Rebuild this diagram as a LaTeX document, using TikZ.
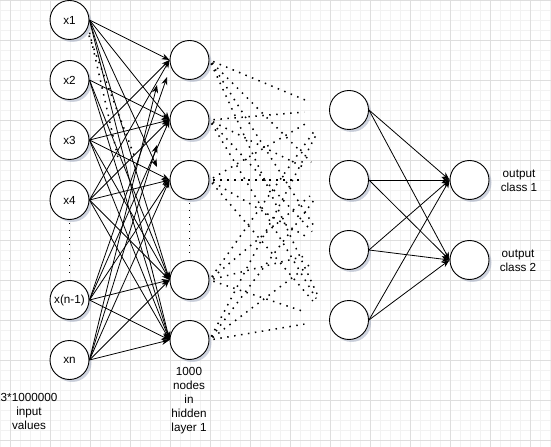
\documentclass[tikz,border=0pt]{standalone}
\usepackage{fontspec}
\setmainfont{Liberation Sans}
\usetikzlibrary{arrows.meta,shadows}
\definecolor{gridminor}{RGB}{242,242,242}
\definecolor{gridmajor}{RGB}{222,222,222}
\definecolor{shadowc}{RGB}{150,160,185}
\begin{document}
\begin{tikzpicture}[x=1bp,y=-1bp,
  font=\fontsize{11.7bp}{14bp}\selectfont,
  neuron/.style={circle, draw=black, line width=0.9bp, fill=white,
    minimum size=39bp, inner sep=0pt,
    drop shadow={shadow xshift=2.5bp, shadow yshift=-2.5bp, fill=shadowc, opacity=0.45}},
  conn/.style={-{Stealth[length=8bp,width=6bp]}, line width=0.8bp},
  dotln/.style={line width=1.5bp, dash pattern=on 1.5bp off 5.5bp},
  lbl/.style={align=center, inner sep=0pt}]
\useasboundingbox (0,0) rectangle (551,447);
\fill[white] (0,0) rectangle (551,447);
% grid
\foreach \x in {0,10,...,550} \draw[gridminor, line width=0.8bp] (\x,0) -- (\x,447);
\foreach \y in {0,10,...,440} \draw[gridminor, line width=0.8bp] (0,\y) -- (551,\y);
\foreach \x in {10,50,...,530} \draw[gridmajor, line width=0.8bp] (\x,0) -- (\x,447);
\foreach \y in {0,40,...,440} \draw[gridmajor, line width=0.8bp] (0,\y) -- (551,\y);

% input nodes
\node[neuron] (x1) at (69.5,20) {x1};
\node[neuron] (x2) at (69.5,80) {x2};
\node[neuron] (x3) at (69.5,140) {x3};
\node[neuron] (x4) at (69.5,200) {x4};
\node[neuron] (xm) at (69.5,300) {x(n-1)};
\node[neuron] (xn) at (69.5,360) {xn};
% hidden layer
\node[neuron] (h1) at (189.5,60) {};
\node[neuron] (h2) at (189.5,120) {};
\node[neuron] (h3) at (189.5,180) {};
\node[neuron] (h4) at (189.5,280) {};
\node[neuron] (h5) at (189.5,340) {};
% third layer
\node[neuron] (t1) at (349,110) {};
\node[neuron] (t2) at (349,180) {};
\node[neuron] (t3) at (349,250) {};
\node[neuron] (t4) at (349,320) {};
% outputs
\node[neuron] (o1) at (469.5,180) {};
\node[neuron] (o2) at (469.5,260) {};

% labels
\node[lbl] (lo1) at (519,181) {output\\class 1};
\node[lbl] (lo2) at (518,261) {output\\class 2};
\node[lbl] (lh) at (189,401) {1000\\nodes\\in\\hidden\\layer 1};
\node[lbl] (li) at (29,411) {3*1000000\\input\\values};

% free ends of short connectors
\coordinate (a1) at (157,85);
\coordinate (a2) at (167,77);
\coordinate (a3) at (157,167);
\coordinate (a4) at (157,145);
\coordinate (d1) at (118,158);
\coordinate (d2) at (134,155);

% input -> hidden
\foreach \s/\t in {x1/h1,x1/h2,x1/h4,x1/h5,
                   x2/h2,x2/h4,x2/h5,
                   x3/h1,x3/h2,x3/h3,x3/h4,x3/h5,
                   x4/h1,x4/h2,x4/h3,x4/h4,x4/h5,
                   xm/h2,xm/h3,xm/h4,xm/h5,
                   xn/h3,xn/h4,xn/h5}
  \draw[conn] (\s.east) -- (\t.west);
\draw[conn] (x1.east) -- (a3);
\draw[conn] (xm.east) -- (a2);
\draw[conn] (xn.east) -- (a1);
\draw[conn] (xn.east) -- (a4);
% dotted from x1
\draw[dotln, shorten <=6bp] (x1.-20) -- (d1);
\draw[dotln, shorten <=6bp] (x1.-30) -- (d2);
% vertical ellipses
\draw[dotln, shorten <=3bp, shorten >=3bp] (x4.south) -- (xm.north);
\draw[dotln, shorten <=3bp, shorten >=3bp] (h3.south) -- (h4.north);

% hidden -> third (dotted, ending short)
\foreach \s in {h1,h2,h3,h4,h5}
  \foreach \t in {t1,t2,t3,t4}
    \draw[dotln, shorten <=4bp, shorten >=25bp] (\s.east) -- (\t.west);

% third -> output
\foreach \s in {t1,t2,t3,t4}
  \foreach \t in {o1,o2}
    \draw[conn] (\s.east) -- (\t.west);
\end{tikzpicture}
\end{document}
